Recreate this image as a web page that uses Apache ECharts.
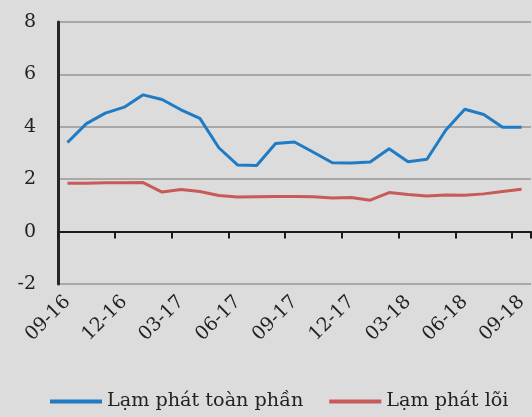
<!DOCTYPE html>
<html>
<head>
<meta charset="utf-8">
<script src="https://cdn.jsdelivr.net/npm/echarts@6/dist/echarts.min.js"></script>
<style>
  html, body { margin: 0; padding: 0; background: #dcdcdc; }
  #chart { width: 532px; height: 417px; }
</style>
</head>
<body>
<div id="chart"></div>
<script>
var months = ['09-16', '10-16', '11-16', '12-16', '01-17', '02-17', '03-17', '04-17', '05-17',
    '06-17', '07-17', '08-17', '09-17', '10-17', '11-17', '12-17', '01-18', '02-18', '03-18',
    '04-18', '05-18', '06-18', '07-18', '08-18', '09-18'];
var headline = [3.4, 4.12, 4.52, 4.75, 5.22, 5.04, 4.65, 4.32, 3.2, 2.54, 2.52, 3.36, 3.42,
    3.03, 2.63, 2.62, 2.66, 3.16, 2.67, 2.76, 3.88, 4.67, 4.47, 3.98, 3.98];
var core = [1.85, 1.85, 1.86, 1.86, 1.87, 1.51, 1.61, 1.53, 1.38, 1.32, 1.33, 1.34, 1.34,
    1.33, 1.28, 1.3, 1.2, 1.49, 1.42, 1.36, 1.4, 1.39, 1.44, 1.53, 1.62];
var yMin = -2, yMax = 8, yStep = 2;

var font = 'DejaVu Serif';
var chart = echarts.init(document.getElementById('chart'));
var option = {
    backgroundColor: '#dcdcdc',
    animation: false,
    legend: {
        bottom: 1,
        left: 45,
        icon: 'rect',
        itemWidth: 52,
        itemHeight: 4,
        itemGap: 26,
        textStyle: { fontFamily: font, fontSize: 19.2, color: '#222' },
        data: ['Lạm phát toàn phần', 'Lạm phát lõi']
    },
    grid: { left: 58, right: 1, top: 22, bottom: 133 },
    xAxis: [{
        // zero line with its ticks
        type: 'category',
        data: months,
        boundaryGap: true,
        position: 'top',
        axisLine: { onZero: true, lineStyle: { color: '#1a1a1a', width: 2 } },
        axisTick: { show: true, interval: 2, length: 7, inside: true, lineStyle: { color: '#1a1a1a', width: 2 } },
        axisLabel: { show: false }
    }, {
        // labels at the bottom
        type: 'category',
        data: months,
        boundaryGap: true,
        position: 'bottom',
        axisLine: { show: false, onZero: false },
        axisTick: { show: false },
        axisLabel: {
            interval: 2,
            rotate: 45,
            margin: 15,
            fontFamily: font,
            fontSize: 19,
            color: '#222'
        }
    }],
    yAxis: {
        type: 'value',
        min: yMin,
        max: yMax,
        interval: yStep,
        axisLine: { show: true, onZero: false, lineStyle: { color: '#262626', width: 3 } },
        axisTick: { show: false },
        axisLabel: { fontFamily: font, fontSize: 19, color: '#222', margin: 22 },
        splitLine: { lineStyle: { color: '#a8a8a8', width: 2 } }
    },
    series: [{
        name: 'Lạm phát toàn phần',
        type: 'line',
        data: headline,
        symbol: 'none',
        lineStyle: { color: '#1f7bc4', width: 3 },
        itemStyle: { color: '#1f7bc4' }
    }, {
        name: 'Lạm phát lõi',
        type: 'line',
        data: core,
        symbol: 'none',
        lineStyle: { color: '#c85a5a', width: 3 },
        itemStyle: { color: '#c85a5a' }
    }]
};
chart.setOption(option);
</script>
</body>
</html>
